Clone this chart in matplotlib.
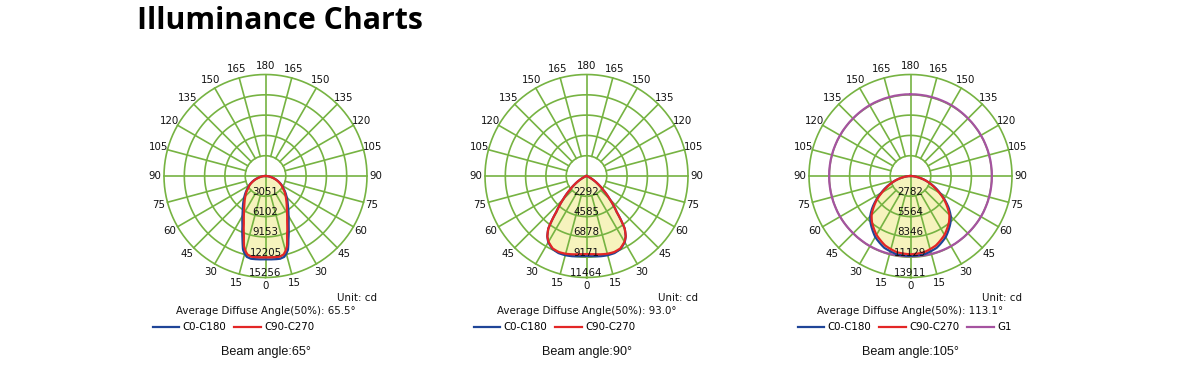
import numpy as np
import matplotlib
matplotlib.use('Agg')
import matplotlib.pyplot as plt

W, H = 1200, 382

# ---------------- data ----------------
# chart 1 (beam 65)
angles1 = [0, 5, 10, 13, 15, 17, 20, 25, 30, 35, 40, 45, 50, 55, 60, 65, 70, 75, 80, 85, 90]
c0_1 = [12520, 12570, 12630, 12480, 12100, 11570, 10070, 8190, 6910, 5940, 5190, 4510, 3910,
        3310, 2860, 2330, 1800, 1280, 800, 390, 0]
c90_1 = [12220, 12260, 12320, 12100, 11650, 11050, 9470, 7670, 6460, 5560, 4880, 4280, 3760,
         3160, 2780, 2250, 1730, 1200, 750, 380, 0]
rings1 = [3051, 6102, 9153, 12205, 15256]

# chart 2 (beam 90)
angles2 = [0, 5, 10, 15, 20, 25, 30, 33, 36, 40, 45, 50, 55, 60, 65, 70, 80, 90]
c0_2 = [9030, 9090, 9200, 9260, 9260, 9090, 8640, 8130, 7340, 5310, 3730, 2480, 1580, 850, 340, 110, 0, 0]
c90_2 = [8810, 8860, 8980, 9090, 9140, 9030, 8580, 8130, 7340, 5310, 3730, 2480, 1580, 850, 340, 110, 0, 0]
rings2 = [2292, 4585, 6878, 9171, 11464]

# chart 3 (beam 105)
angles3 = [0, 10, 20, 30, 40, 45, 50, 55, 60, 65, 70, 75, 80, 85, 90]
c0_3 = [10960, 10890, 10480, 9660, 8490, 7810, 6850, 5750, 4660, 3700, 2740, 1900, 1100, 420, 0]
c90_3 = [10730, 10620, 10140, 9320, 8220, 7540, 6580, 5620, 4520, 3560, 2740, 1920, 1100, 410, 0]
g1_angles = [0, 15, 30, 45, 60, 75, 90, 105, 120, 135, 150, 165, 180]
g1_3 = [11000, 11050, 11100, 11100, 11150, 11150, 11150, 11150, 11150, 11150, 11200, 11200, 11200]
rings3 = [2782, 5564, 8346, 11129, 13911]

diffuse = ['65.5', '93.0', '113.1']
beams = ['65', '90', '105']
angle_ticks = list(range(0, 181, 15))

# ---------------- style ----------------
GRID = '#76b342'
FILL = '#f6f3bd'
BLUE = '#1f4598'
RED = '#e32626'
PURPLE = '#a553a0'
TXT = '#111111'
FONT = 'DejaVu Sans'
FS = 7.4
GLW = 1.2

fig = plt.figure(figsize=(W / 100, H / 100), dpi=100)
fig.patch.set_facecolor('white')


def fx(x):
    return x / W


def fy(y):
    return 1 - y / H


def mirror(ang, val):
    ang = np.asarray(ang, float)
    val = np.asarray(val, float)
    th = np.deg2rad(np.concatenate([-ang[::-1], ang[1:]]))
    r = np.concatenate([val[::-1], val[1:]])
    return th, r


def smooth(artist):
    # let the polar transform follow arcs between data points
    artist.get_path()._interpolation_steps = 30
    return artist


centers = [265.5, 586.5, 910.5]
CY = 176.0
R = 101.5

charts = [
    (angles1, [(c0_1, BLUE, 'C0-C180'), (c90_1, RED, 'C90-C270')], rings1, None),
    (angles2, [(c0_2, BLUE, 'C0-C180'), (c90_2, RED, 'C90-C270')], rings2, None),
    (angles3, [(c0_3, BLUE, 'C0-C180'), (c90_3, RED, 'C90-C270')], rings3, (g1_angles, g1_3)),
]

for i, (cx, (ang, curves, rings, g1)) in enumerate(zip(centers, charts)):
    ax = fig.add_axes([fx(cx - R), (H - CY - R) / H, 2 * R / W, 2 * R / H], projection='polar')
    ax.set_theta_zero_location('S')
    rmax = rings[-1]
    ax.set_ylim(0, rmax)
    ax.axis('off')
    cdpx = rmax / R

    # fill under curves
    for vals, col, lab in curves:
        th, r = mirror(ang, vals)
        ax.fill(th, r, color=FILL, lw=0, zorder=1)

    # grid rings
    tt = np.linspace(0, 2 * np.pi, 361)
    for rv in rings:
        ax.plot(tt, np.full_like(tt, rv), color=GRID, lw=GLW, zorder=2, clip_on=False)
    # spokes
    for a in range(15, 180, 15):
        if a == 90:
            continue
        for s in (1, -1):
            t = np.deg2rad(s * a)
            ax.plot([t, t], [rings[0], rmax], color=GRID, lw=GLW, zorder=2, clip_on=False)
    for a in (0, 180, 90, -90):
        t = np.deg2rad(a)
        ax.plot([t, t], [0, rmax], color=GRID, lw=GLW, zorder=2, clip_on=False)

    handles = []
    g1_handle = None
    if g1 is not None:
        th, r = mirror(g1[0], g1[1])
        g1_handle, = ax.plot(th, r, color=PURPLE, lw=1.6, zorder=3, label='G1')
        smooth(g1_handle)
    for vals, col, lab in curves:
        th, r = mirror(ang, vals)
        ln, = ax.plot(th, r, color=col, lw=1.6, zorder=4, label=lab)
        smooth(ln)
        handles.append(ln)
    if g1_handle is not None:
        handles.append(g1_handle)

    # angle labels
    for a in angle_ticks:
        sides = (1,) if a in (0, 180) else (1, -1)
        for s in sides:
            ax.text(np.deg2rad(s * a), rmax * 1.088, str(a), ha='center', va='center',
                    fontsize=FS, family=FONT, color=TXT)
    # value labels
    for rv in rings:
        ax.text(0, rv - 4.5 * cdpx, str(rv), ha='center', va='center',
                fontsize=FS, family=FONT, color=TXT, zorder=6)

    # annotations
    fig.text(fx(cx + 111.5), fy(298), 'Unit: cd', ha='right', va='center',
             fontsize=FS, family=FONT, color=TXT)
    fig.text(fx(cx), fy(310.5), 'Average Diffuse Angle(50%): ' + diffuse[i] + '°',
             ha='center', va='center', fontsize=FS, family=FONT, color=TXT)
    fig.legend(handles=handles, loc='center left', bbox_to_anchor=(fx(cx - 113), fy(327.5)),
               ncol=len(handles), frameon=False,
               prop={'family': FONT, 'size': FS}, handlelength=2.6, handletextpad=0.3,
               columnspacing=0.8, borderaxespad=0, borderpad=0)
    fig.text(fx(cx), fy(352), 'Beam angle:' + beams[i] + '°', ha='center', va='center',
             fontsize=9.1, family='Liberation Sans', color=TXT)

fig.text(fx(137), fy(21), 'Illuminance Charts', ha='left', va='center',
         fontsize=21.8, family='Open Sans', fontweight='bold', color='#000000')

fig.savefig('out.png', dpi=100, facecolor='white')
